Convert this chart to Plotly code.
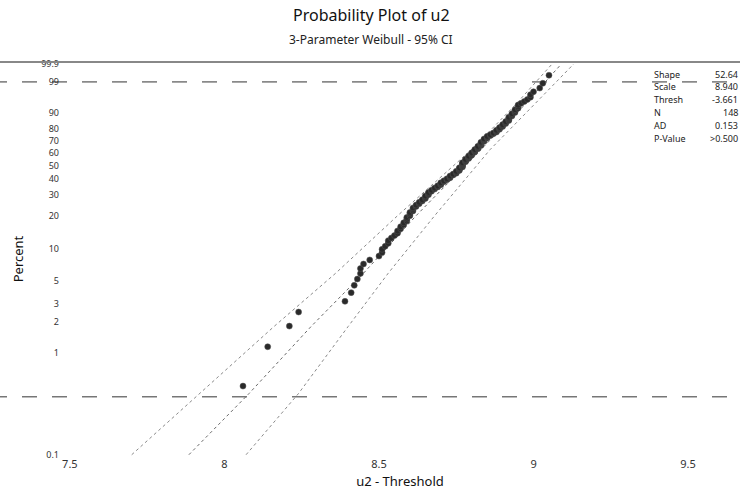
import numpy as np
import plotly.graph_objects as go

# ---- data (u2 - Threshold), sorted ----
u2_shifted = [
    8.06, 8.14, 8.21, 8.24, 8.39, 8.41, 8.42, 8.43, 8.44, 8.44,
    8.45, 8.47, 8.50, 8.51, 8.51, 8.52, 8.53, 8.53, 8.54, 8.55,
    8.56, 8.56, 8.57, 8.57, 8.58, 8.58, 8.59, 8.59, 8.59, 8.60,
    8.60, 8.60, 8.61, 8.61, 8.61, 8.62, 8.62, 8.63, 8.63, 8.64,
    8.64, 8.65, 8.65, 8.65, 8.66, 8.66, 8.66, 8.67, 8.67, 8.68,
    8.68, 8.69, 8.69, 8.70, 8.70, 8.70, 8.71, 8.71, 8.72, 8.72,
    8.73, 8.73, 8.73, 8.74, 8.74, 8.75, 8.75, 8.75, 8.76, 8.76,
    8.76, 8.76, 8.77, 8.77, 8.77, 8.77, 8.77, 8.77, 8.78, 8.78,
    8.78, 8.78, 8.79, 8.79, 8.79, 8.79, 8.80, 8.80, 8.80, 8.80,
    8.81, 8.81, 8.81, 8.81, 8.82, 8.82, 8.82, 8.82, 8.83, 8.83,
    8.83, 8.83, 8.83, 8.84, 8.84, 8.84, 8.84, 8.85, 8.85, 8.85,
    8.86, 8.86, 8.87, 8.87, 8.88, 8.88, 8.88, 8.89, 8.89, 8.89,
    8.90, 8.90, 8.90, 8.91, 8.91, 8.91, 8.92, 8.92, 8.92, 8.92,
    8.93, 8.93, 8.93, 8.94, 8.94, 8.94, 8.95, 8.95, 8.95, 8.96,
    8.97, 8.98, 8.99, 8.99, 9.00, 9.02, 9.03, 9.05,
]

# fitted line and 95% CI bands (percent, x)
line_pct = [0.1, 0.4, 1.8, 5.9, 20.0, 63.2, 93.4, 99.9]
fit_x = [7.885, 8.08, 8.28, 8.45, 8.62, 8.83, 8.97, 9.09]
ci_lo_x = [7.70, 7.92, 8.16, 8.36, 8.56, 8.80, 8.94, 9.06]
ci_hi_x = [8.07, 8.24, 8.40, 8.53, 8.68, 8.86, 9.00, 9.13]

ytick_pct = [0.1, 1, 2, 3, 5, 10, 20, 30, 40, 50, 60, 70, 80, 90, 99, 99.9]
ytick_txt = ["0.1", "1", "2", "3", "5", "10", "20", "30", "40", "50",
             "60", "70", "80", "90", "99", "99.9"]
xtick_vals = [7.5, 8, 8.5, 9, 9.5]
xtick_txt = ["7.5", "8", "8.5", "9", "9.5"]
ref_pct = [99, 0.37]

stat_names = ["Shape", "Scale", "Thresh", "N", "AD", "P-Value"]
stat_vals = ["52.64", "8.940", "-3.661", "148", "0.153", ">0.500"]

title_text = "Probability Plot of u2"
subtitle_text = "3-Parameter Weibull - 95% CI"


def wscale(pct):
    p = np.asarray(pct, dtype=float) / 100.0
    return np.log(-np.log(1.0 - p))


n = len(u2_shifted)
ranks = np.arange(1, n + 1)
plot_pct = (ranks - 0.3) / (n + 0.4) * 100.0

fig = go.Figure()

for xs, col, w in [(ci_lo_x, "#8a8a8a", 1), (ci_hi_x, "#8a8a8a", 1), (fit_x, "#6a6a6a", 1)]:
    fig.add_trace(go.Scatter(x=xs, y=wscale(line_pct), mode="lines",
                             line=dict(color=col, width=w, dash="dot"),
                             hoverinfo="skip", showlegend=False))

fig.add_trace(go.Scatter(x=u2_shifted, y=wscale(plot_pct), mode="markers",
                         marker=dict(size=6, color="#2a2a2a",
                                     line=dict(color="#555555", width=0.5)),
                         showlegend=False))

for rp in ref_pct:
    fig.add_shape(type="line", xref="paper", x0=-0.1, x1=1, yref="y",
                  y0=float(wscale([rp])[0]), y1=float(wscale([rp])[0]),
                  line=dict(color="#333333", width=1, dash="longdash"), layer="below")

fig.add_shape(type="line", xref="paper", x0=-0.1, x1=1, yref="paper", y0=1, y1=1,
              line=dict(color="#888888", width=2))

# titles
H_PLOT = 504 - 62 - 48
fig.add_annotation(xref="paper", yref="paper", x=(371 - 60) / 680, y=1 + (62 - 15) / H_PLOT,
                   text=title_text, showarrow=False, xanchor="center", yanchor="middle",
                   font=dict(size=16, color="#111111", family="Noto Sans"))
fig.add_annotation(xref="paper", yref="paper", x=(371 - 60) / 680, y=1 + (62 - 39) / H_PLOT,
                   text=subtitle_text, showarrow=False, xanchor="center", yanchor="middle",
                   font=dict(size=12, color="#222222", family="Noto Sans"))

# stats box
for i, (nm, v) in enumerate(zip(stat_names, stat_vals)):
    yy = 74 + i * 12.8
    fig.add_annotation(xref="paper", yref="paper", x=(652 - 60) / 680, y=1 - (yy - 62) / H_PLOT,
                       text=nm, showarrow=False, xanchor="left", yanchor="middle",
                       font=dict(size=9, color="#222222", family="Noto Sans"))
    fig.add_annotation(xref="paper", yref="paper", x=1, y=1 - (yy - 62) / H_PLOT,
                       text=v, showarrow=False, xanchor="right", yanchor="middle",
                       font=dict(size=9, color="#222222", family="Noto Sans"))

fig.update_layout(
    width=742, height=504,
    margin=dict(l=60, r=2, t=62, b=48),
    paper_bgcolor="white", plot_bgcolor="white",
    font=dict(family="Noto Sans", color="#222222"),
    xaxis=dict(range=[7.468, 9.668], tickvals=xtick_vals, ticktext=xtick_txt,
               showgrid=False, zeroline=False, showline=False, ticks="",
               tickfont=dict(size=11, color="#333333"),
               title=dict(text="u2 - Threshold", font=dict(size=13, color="#111111"), standoff=6)),
    yaxis=dict(range=[-6.936, 1.978], tickvals=list(wscale(ytick_pct)), ticktext=ytick_txt,
               showgrid=False, zeroline=False, showline=False, ticks="",
               tickfont=dict(size=9, color="#333333"),
               title=dict(text="Percent", font=dict(size=13, color="#111111"), standoff=14)),
)

fig.write_html("out.html")
